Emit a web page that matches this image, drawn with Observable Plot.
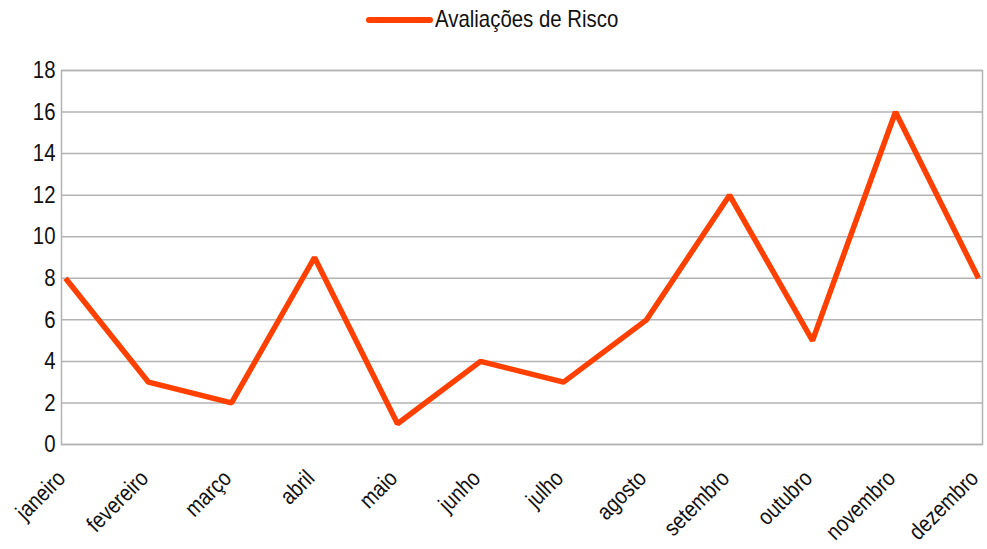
<!DOCTYPE html>
<html>
<head>
<meta charset="utf-8">
<script src="https://cdn.jsdelivr.net/npm/d3@7"></script>
<script src="https://cdn.jsdelivr.net/npm/@observablehq/plot@0.6"></script>
<style>
  html, body { margin: 0; padding: 0; background: #fff; }
  body { width: 987px; height: 549px; overflow: hidden; position: relative; font-family: "Liberation Sans", Arial, sans-serif; }
  #legend { position: relative; height: 40px; }
  #legend .sw { position: absolute; left: 366px; top: 17px; width: 67px; height: 6px; background: #ff4000; border-radius: 3px; }
  #legend .txt { position: absolute; left: 435px; top: 5px; font-size: 24px; line-height: 28px; color: #111; transform: scaleX(0.85); transform-origin: 0 0; white-space: nowrap; }
  svg { display: block; }
</style>
</head>
<body>
<div id="legend"><span class="sw"></span><span class="txt" id="series-name"></span></div>
<div id="chart"></div>
<script>
const months = ["janeiro","fevereiro","março","abril","maio","junho","julho","agosto","setembro","outubro","novembro","dezembro"];
const values = [8, 3, 2, 9, 1, 4, 3, 6, 12, 5, 16, 8];
const seriesName = "Avaliações de Risco";
const yTicks = [0, 2, 4, 6, 8, 10, 12, 14, 16, 18];

document.getElementById("series-name").textContent = seriesName;
const data = months.map((m, i) => ({month: m, value: values[i]}));

const chart = Plot.plot({
  width: 987,
  height: 509,
  marginTop: 30,
  marginBottom: 105,
  marginLeft: 61,
  marginRight: 5,
  style: {fontFamily: '"Liberation Sans", Arial, sans-serif', fontSize: "24px", color: "#111", background: "#fff"},
  x: {type: "point", domain: months, padding: 0, label: null},
  y: {domain: [0, 18], label: null},
  marks: [
    Plot.ruleY(yTicks, {stroke: "#b3b3b3", strokeWidth: 1.5}),
    Plot.frame({stroke: "#b3b3b3", strokeWidth: 1.5}),
    Plot.axisY(yTicks, {tickSize: 0, tickPadding: 6, label: null, fontSize: 24}),
    Plot.axisX({tickSize: 0, tickRotate: -45, tickPadding: 30, dx: -4, label: null, fontSize: 23}),
    Plot.line(data, {x: "month", y: "value", stroke: "#ff4000", strokeWidth: 5.5, strokeLinejoin: "miter", strokeLinecap: "butt"})
  ]
});
// condense tick label glyphs horizontally (narrow typeface look)
chart.querySelectorAll('g[aria-label$="tick label"] text').forEach(t => {
  let tr = t.getAttribute("transform");
  if (!tr) {
    const x = t.getAttribute("x") || 0, y = t.getAttribute("y") || 0;
    t.removeAttribute("x"); t.removeAttribute("y");
    tr = `translate(${x},${y})`;
  }
  t.setAttribute("transform", tr + " scale(0.85,1)");
});
document.getElementById("chart").appendChild(chart);
</script>
</body>
</html>
